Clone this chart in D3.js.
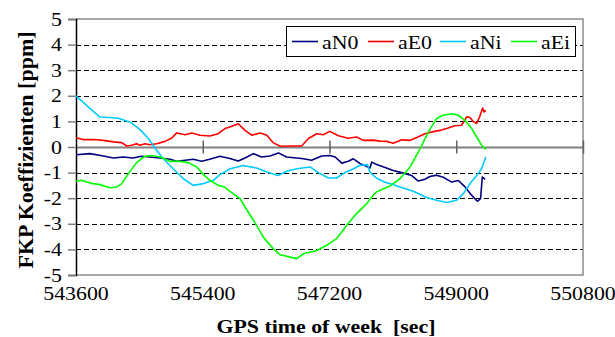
<!DOCTYPE html>
<html>
<head>
<meta charset="utf-8">
<script src="https://cdn.jsdelivr.net/npm/d3@7"></script>
<style>
  body { margin: 0; background: #fff; }
  svg { display: block; }
</style>
</head>
<body>
<svg id="chart" width="615" height="337"></svg>
<script>
// GPS time of week [sec] and FKP coefficients [ppm] per series
const tN0 = [543600,543800,543990,544130,544270,544410,544530,544650,544790,544935,545030,545150,545265,545385,545500,545645,545785,545905,546000,546120,546235,546355,546475,546590,546735,546830,546945,547090,547205,547280,547375,547465,547540,547635,547700,547775,547800,547870,547990,548105,548250,548365,548460,548555,548625,548720,548815,548935,549030,549125,549220,549300,549345,549370,549410];
const aN0 = [-0.30,-0.26,-0.35,-0.43,-0.39,-0.43,-0.36,-0.39,-0.43,-0.48,-0.56,-0.52,-0.48,-0.56,-0.48,-0.36,-0.45,-0.55,-0.43,-0.26,-0.39,-0.35,-0.23,-0.39,-0.43,-0.46,-0.52,-0.35,-0.33,-0.39,-0.63,-0.56,-0.46,-0.65,-0.72,-0.82,-0.59,-0.68,-0.80,-0.92,-1.02,-1.11,-1.33,-1.26,-1.15,-1.10,-1.18,-1.37,-1.31,-1.56,-1.89,-2.12,-2.02,-1.17,-1.26];

const tE0 = [543600,543700,543850,543990,544130,544250,544320,544390,544460,544510,544580,544650,544745,544865,544960,545030,545150,545245,545360,545500,545620,545715,545785,545905,546000,546095,546215,546310,546400,546500,546640,546805,546900,547020,547110,547205,547325,547465,547585,547680,547820,547917,548010,548105,548225,548345,548440,548555,548675,548790,548885,548980,549075,549150,549195,549240,549290,549335,549375,549395,549420];
const aE0 = [0.36,0.29,0.29,0.26,0.20,0.17,0.04,0.07,0.13,0.07,0.13,0.09,0.13,0.22,0.35,0.55,0.48,0.55,0.46,0.43,0.52,0.72,0.78,0.91,0.65,0.46,0.55,0.46,0.17,0.03,0.04,0.04,0.33,0.52,0.48,0.61,0.44,0.34,0.39,0.26,0.27,0.23,0.22,0.15,0.28,0.26,0.37,0.52,0.60,0.66,0.74,0.83,0.85,1.18,1.15,1.00,0.92,1.20,1.52,1.37,1.43];

const tNi = [543600,543700,543800,543940,544080,544200,544370,544510,544630,544730,544840,544990,545125,545265,545410,545550,545645,545790,545975,546165,546310,546470,546590,546735,546925,547040,547185,547300,547420,547540,547630,547740,547770,547870,547990,548060,548200,548390,548580,548720,548865,549005,549100,549195,549290,549360,549420];
const aNi = [2.00,1.75,1.50,1.17,1.15,1.12,0.97,0.68,0.32,-0.08,-0.46,-0.88,-1.24,-1.50,-1.43,-1.30,-1.08,-0.85,-0.72,-0.82,-0.98,-1.11,-0.95,-0.85,-0.78,-1.00,-1.21,-1.21,-1.00,-0.85,-0.72,-0.69,-0.97,-1.22,-1.38,-1.43,-1.56,-1.73,-1.97,-2.08,-2.17,-2.08,-1.82,-1.43,-1.11,-0.85,-0.39];

const tEi = [543600,543680,543800,543940,544080,544180,544250,544345,544460,544580,544675,544795,544935,545075,545195,545315,545410,545500,545620,545700,545787,545930,546045,546165,546260,546400,546500,546735,546830,547020,547160,547300,547445,547585,547730,547800,547870,548060,548200,548345,548485,548605,548720,548815,548935,549030,549125,549220,549290,549360,549420];
const aEi = [-1.34,-1.30,-1.41,-1.47,-1.59,-1.56,-1.43,-1.04,-0.61,-0.36,-0.33,-0.39,-0.56,-0.56,-0.61,-0.78,-1.08,-1.30,-1.50,-1.55,-1.73,-2.02,-2.54,-3.06,-3.52,-3.97,-4.21,-4.36,-4.17,-4.04,-3.84,-3.58,-3.06,-2.60,-2.21,-1.95,-1.75,-1.52,-1.24,-0.78,-0.07,0.59,1.11,1.24,1.30,1.24,1.04,0.72,0.39,0.07,-0.09];

const seriesNames = ["aN0", "aE0", "aNi", "aEi"];
const seriesColors = ["#000080", "#ff0000", "#00ccff", "#00ff00"];
const seriesTimes = [tN0, tE0, tNi, tEi];
const seriesValues = [aN0, aE0, aNi, aEi];

const xTicks = [543600, 545400, 547200, 549000, 550800];
const yTicks = [-5, -4, -3, -2, -1, 0, 1, 2, 3, 4, 5];
const xTitle = "GPS time of week  [sec]";
const yTitle = "FKP Koeffizienten [ppm]";

const FONT = "'Liberation Serif', 'Times New Roman', Times, 'DejaVu Serif', serif";

const svg = d3.select("#chart");
const plot = { left: 76, right: 583, top: 19, bottom: 275 };
const stretch = 1.15;

const x = d3.scaleLinear().domain([543600, 550800]).range([plot.left, plot.right]);
const y = d3.scaleLinear().domain([-5, 5]).range([plot.bottom, plot.top]);

svg.append("rect").attr("width", 615).attr("height", 337).attr("fill", "#fff");

// dashed horizontal gridlines
svg.append("g")
  .selectAll("line")
  .data(yTicks.filter(v => v !== 0 && Math.abs(v) !== 5))
  .join("line")
  .attr("x1", plot.left).attr("x2", plot.right)
  .attr("y1", d => Math.round(y(d)) + 0.5).attr("y2", d => Math.round(y(d)) + 0.5)
  .attr("stroke", "#000").attr("stroke-width", 1)
  .attr("stroke-dasharray", "5,3");

// plot frame (top, right, bottom)
svg.append("path")
  .attr("d", `M${plot.left},${y(5)}H${plot.right}V${y(-5)}H${plot.left}`)
  .attr("fill", "none").attr("stroke", "#8c8c8c").attr("stroke-width", 1.5);

// zero line acting as the x axis, with crossing ticks
const xAxis = d3.axisBottom(x).tickValues(xTicks).tickSize(0).tickFormat("");
const gx = svg.append("g").attr("transform", `translate(0,${y(0)})`).call(xAxis);
gx.select(".domain").attr("stroke", "#808080").attr("stroke-width", 2);
gx.selectAll(".tick").filter(d => d !== 543600).append("line")
  .attr("y1", -6.5).attr("y2", 6.5)
  .attr("stroke", "#606060").attr("stroke-width", 1.5);

// x tick labels under the frame
svg.append("g")
  .selectAll("text")
  .data(xTicks)
  .join("text")
  .attr("transform", d => `translate(${x(d)},300) scale(${stretch},1)`)
  .attr("text-anchor", "middle")
  .attr("font-family", FONT)
  .attr("font-size", 19)
  .attr("fill", "#000")
  .text(d => d3.format("d")(d));

// y axis
const yAxis = d3.axisLeft(y).tickValues(yTicks).tickSize(8).tickFormat("");
const gy = svg.append("g").attr("transform", `translate(${plot.left},0)`).call(yAxis);
gy.select(".domain").attr("stroke", "#000").attr("stroke-width", 1.5);
gy.selectAll(".tick line").attr("stroke", "#808080").attr("stroke-width", 1.5);

svg.append("g")
  .selectAll("text")
  .data(yTicks)
  .join("text")
  .attr("transform", d => `translate(62,${y(d) + 6.5}) scale(${stretch},1)`)
  .attr("text-anchor", "end")
  .attr("font-family", FONT)
  .attr("font-size", 19)
  .attr("fill", "#000")
  .text(d => d);

// series lines
const line = d3.line().x(d => x(d[0])).y(d => y(d[1]));
seriesNames.forEach((name, i) => {
  const pts = seriesTimes[i].map((t, j) => [t, seriesValues[i][j]]);
  svg.append("path")
    .datum(pts)
    .attr("d", line)
    .attr("fill", "none")
    .attr("stroke", seriesColors[i])
    .attr("stroke-width", 1.6)
    .attr("stroke-linejoin", "round");
});

// legend
const legend = svg.append("g");
legend.append("rect")
  .attr("x", 286.5).attr("y", 26.5).attr("width", 289).attr("height", 30)
  .attr("fill", "#fff").attr("stroke", "#000").attr("stroke-width", 1);
const legendX = [292, 368, 440, 511];
seriesNames.forEach((name, i) => {
  legend.append("line")
    .attr("x1", legendX[i]).attr("x2", legendX[i] + 26)
    .attr("y1", 41.5).attr("y2", 41.5)
    .attr("stroke", seriesColors[i]).attr("stroke-width", 1.6);
  legend.append("text")
    .attr("transform", `translate(${legendX[i] + 30},49) scale(${stretch},1)`)
    .attr("font-family", FONT)
    .attr("font-size", 19)
    .attr("fill", "#000")
    .text(name);
});

// axis titles
svg.append("text")
  .attr("transform", `translate(326,333) scale(${stretch},1)`)
  .attr("text-anchor", "middle")
  .attr("font-family", FONT)
  .attr("font-size", 19)
  .attr("font-weight", "bold")
  .attr("xml:space", "preserve")
  .style("white-space", "pre")
  .text(xTitle);

svg.append("text")
  .attr("transform", "translate(33,150) rotate(-90)")
  .attr("text-anchor", "middle")
  .attr("font-family", FONT)
  .attr("font-size", 22)
  .attr("font-weight", "bold")
  .text(yTitle);
</script>
</body>
</html>
